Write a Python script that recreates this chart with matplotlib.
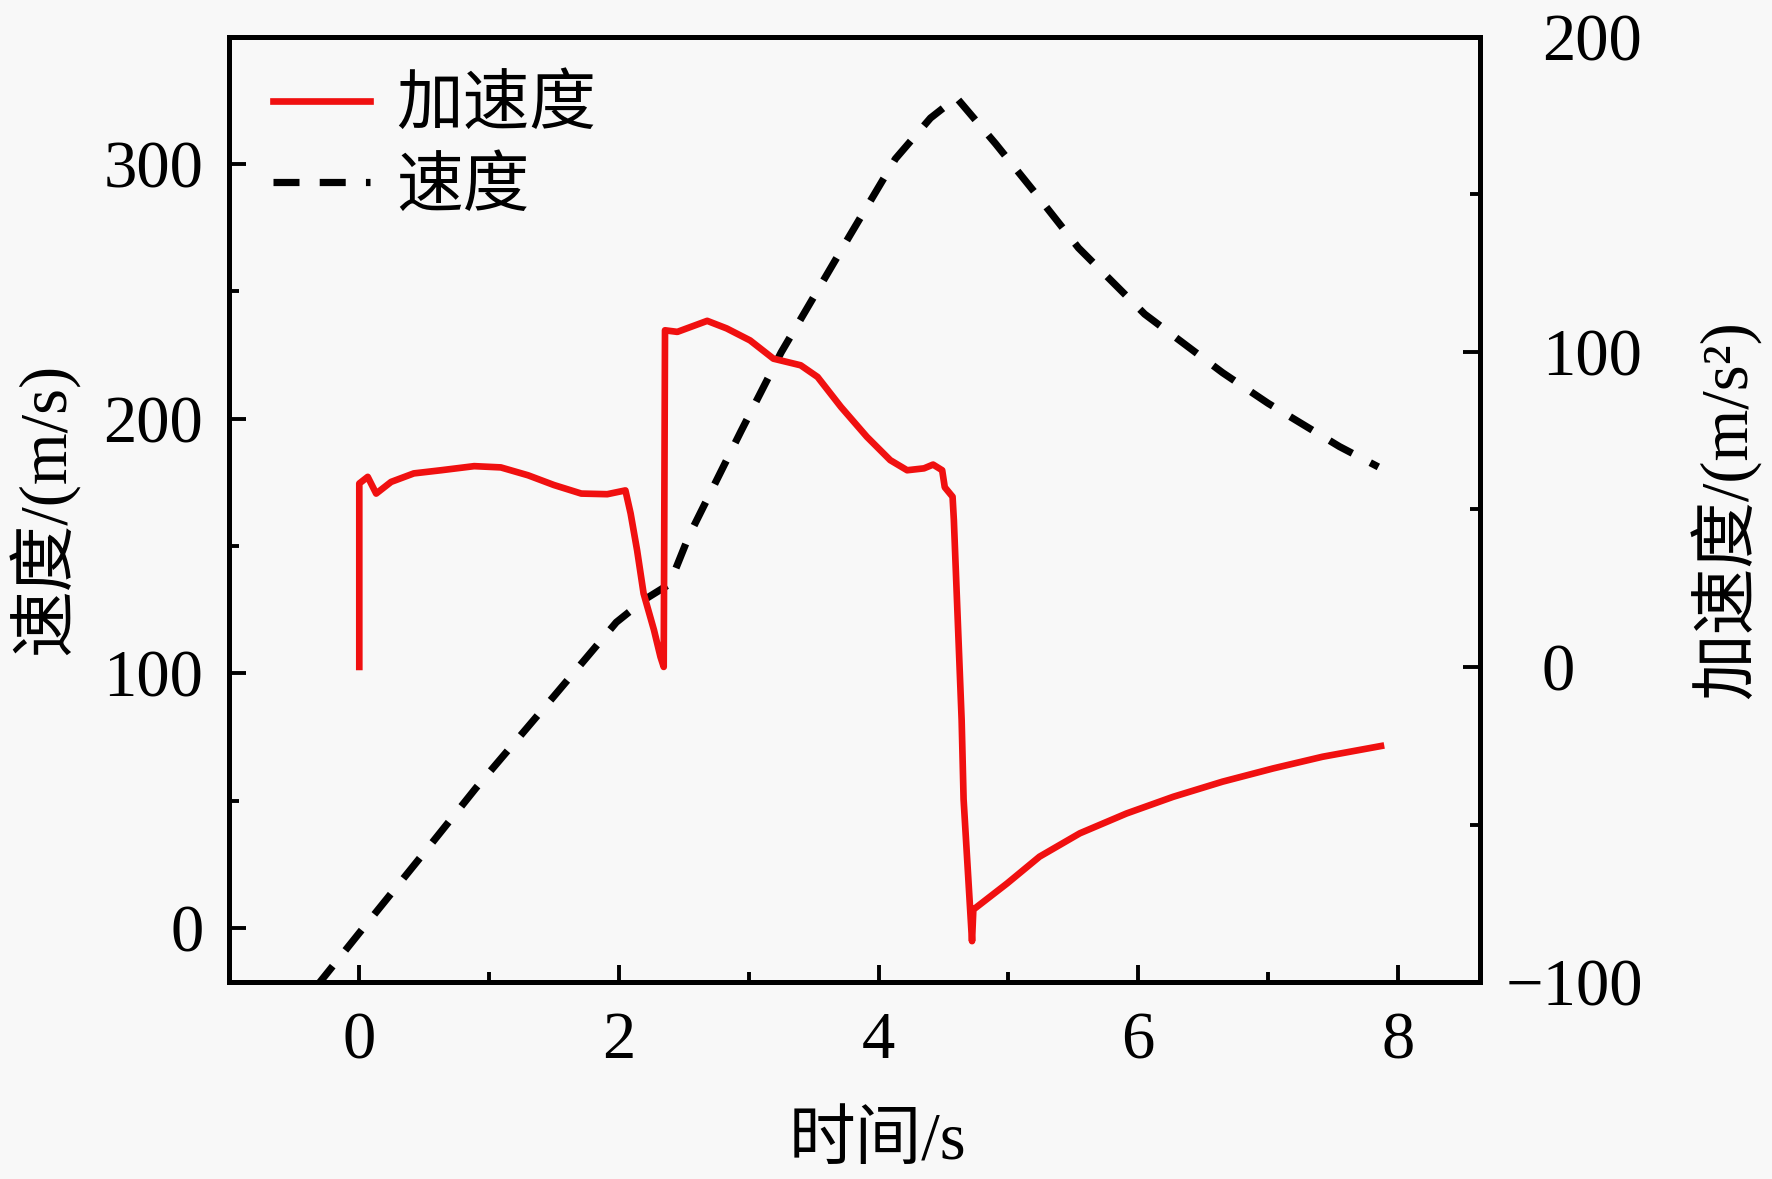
import numpy as np
import matplotlib
matplotlib.use('Agg')
import matplotlib.pyplot as plt
from matplotlib.ticker import MultipleLocator
import matplotlib.transforms as mtransforms

# 速度 (左轴) 读图数据
t_v = [-0.33, 0.0, 0.46, 0.9, 1.5, 1.98, 2.2, 2.39, 2.54, 2.94, 3.25, 3.78, 4.13, 4.4, 4.6,
       4.9, 5.2, 5.54, 6.05, 6.65, 7.0, 7.55, 7.85]
v = [-23, -2, 27, 55, 91, 120, 129, 135, 154, 195, 226, 272, 302, 318, 326,
     308, 289, 267, 241, 218, 206, 189, 181]

# 加速度 (右轴)
t_a = [0.0, 0.0, 0.065, 0.13, 0.245, 0.42, 0.63, 0.885, 1.09, 1.30, 1.50, 1.71, 1.91, 2.05,
       2.09, 2.14, 2.19, 2.27, 2.32, 2.345, 2.355, 2.45, 2.68, 2.83, 3.01, 3.19, 3.40,
       3.53, 3.71, 3.91, 4.09, 4.22, 4.35, 4.42, 4.49, 4.51, 4.57, 4.58, 4.64, 4.655,
       4.72, 4.73, 4.99, 5.24, 5.55, 5.91, 6.27, 6.65, 7.04, 7.42, 7.87]
a = [0, 58.2, 60.3, 55, 58.7, 61.4, 62.4, 63.7, 63.3, 60.8, 57.7, 55, 54.8, 56,
     48.7, 37, 23.3, 11.7, 3.2, 0, 106.8, 106.3, 109.8, 107.4, 103.6, 97.8, 95.7,
     92, 82.5, 73, 65.6, 62.4, 63, 64.2, 62.4, 57, 54, 46.6, -16.9, -42,
     -87, -77, -68.7, -60.2, -52.8, -46.5, -41.2, -36.4, -32.2, -28.5, -25.1]

xticks = [0, 2, 4, 6, 8]
vticks = [0, 100, 200, 300]
aticks = [-100, 0, 100, 200]

plt.rcParams['font.family'] = ['Liberation Serif', 'Noto Sans CJK SC']
plt.rcParams['font.size'] = 24

bg = '#f8f8f8'
fig = plt.figure(figsize=(8.86, 5.895), dpi=200, facecolor=bg)
ax = fig.add_axes([0.1295, 0.167, 0.7055, 0.802])
ax.set_facecolor(bg)
ax2 = ax.twinx()

l1, = ax.plot(t_v, v, color='black', lw=2.6, dashes=(3.6, 2.8), label='速度')
l2, = ax2.plot(t_a, a, color='#f01010', lw=2.4, solid_joinstyle='round', label='加速度')

ax.set_xlim(-1, 8.63)
ax.set_ylim(-21.3, 350)
ax2.set_ylim(-100, 200)

ax.set_xticks(xticks)
ax.xaxis.set_minor_locator(MultipleLocator(1))
ax.set_yticks(vticks)
ax.yaxis.set_minor_locator(MultipleLocator(50))
ax2.set_yticks(aticks)
ax2.yaxis.set_minor_locator(MultipleLocator(50))

for s in list(ax.spines.values()) + list(ax2.spines.values()):
    s.set_linewidth(1.8)

ax.tick_params(axis='both', which='both', direction='in', width=1.4, top=False, right=False)
ax.tick_params(axis='both', which='major', length=6)
ax.tick_params(axis='both', which='minor', length=3.5)
ax.tick_params(axis='y', pad=9.4)
ax.tick_params(axis='x', pad=10.5)
ax2.tick_params(axis='y', which='both', direction='in', width=1.4, left=False, right=True, pad=22.4)
ax2.tick_params(axis='y', which='major', length=6)
ax2.tick_params(axis='y', which='minor', length=3.5)

# 负号向左伸出
tk = ax2.yaxis.get_major_ticks()[0]
tk.label2.set_transform(tk.label2.get_transform() +
                        mtransforms.ScaledTranslation(-0.18, 0, fig.dpi_scale_trans))

ax.set_xlabel('时间/s')
ax.xaxis.set_label_coords(0.5185, -0.137)
ax.set_ylabel('速度/(m/s)')
ax.yaxis.set_label_coords(-0.12, 0.5)
ax2.set_ylabel('加速度/(m/s²)')
ax2.yaxis.set_label_coords(1.168, 0.5)

ax2.legend([l2, l1], ['加速度', '速度'], loc='upper left', bbox_to_anchor=(0.035, 0.958),
           frameon=False, handlelength=1.45, handletextpad=0.4, labelspacing=0.3,
           borderaxespad=0, borderpad=0)

fig.savefig('out.png', dpi=200, facecolor=bg)
